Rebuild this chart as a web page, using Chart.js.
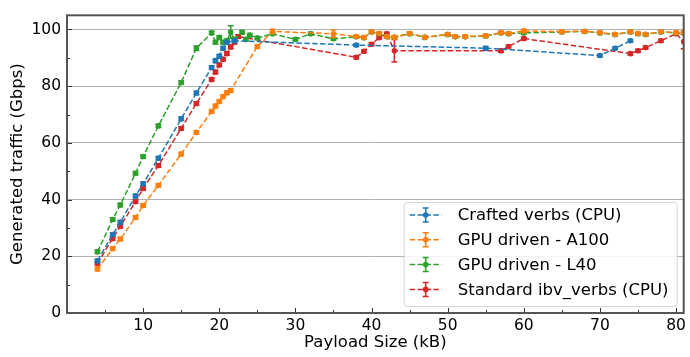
<!DOCTYPE html>
<html><head><meta charset="utf-8">
<script src="https://cdn.jsdelivr.net/npm/chart.js@4/dist/chart.umd.min.js"></script>
<style>html,body{margin:0;padding:0;background:#fff;}#wrap{width:690px;height:357px;}</style>
</head><body><div id="wrap"><canvas id="c" width="690" height="357"></canvas></div>
<script>
// ---------- data ----------
const seriesNames = ['Crafted verbs (CPU)', 'GPU driven - A100', 'GPU driven - L40', 'Standard ibv_verbs (CPU)'];
const seriesColors = ['#1f77b4', '#ff7f0e', '#2ca02c', '#d62728'];

const craftedX = [4,6,7,9,10,12,15,17,19,19.5,20,20.5,21,22,38,55,70,72,74];
const craftedY = [18.4,27.7,32,41.3,45.6,54.6,68.5,77.6,86.6,89,90.6,93.4,95.5,96,94.5,93.4,90.8,93.4,96];
const craftedErr = [0.6,0.6,0.6,0.6,0.6,0.6,0.6,0.6,0.6,0.6,0.6,0.6,0.6,0.6,0.5,0.6,0.5,0.5,0.5];

const a100X = [4,6,7,9,10,12,15,17,19,19.5,20,20.5,21,21.5,25,27,35,38,39,40,41,42,43,45,47,50,51,52.3,55,57,58,60,65,68,70,72,74,75,76,78,80,81];
const a100Y = [15.5,22.7,26.1,33.7,37.9,45,56.1,63.7,71.1,73,74.6,76.3,77.7,78.5,94,99.3,98.5,97.5,97.2,99.2,98.6,97.5,97.3,98.6,97.3,98.3,97.5,97.5,97.8,98.9,98.6,99.5,99.2,99.4,98.9,98.3,99.2,98.6,98.3,99.2,98.9,98.9];
const a100Err = [0.6,0.6,0.6,0.6,0.6,0.6,0.6,0.6,0.6,0.6,0.6,0.6,0.6,0.6,0.6,0.8,1.3,0.4,0.4,0.4,0.4,0.4,0.4,0.4,0.4,0.4,0.4,0.4,0.4,0.4,0.4,0.6,0.4,0.4,0.4,0.4,0.4,0.4,0.4,0.4,0.4,0.4];

const l40X = [4,6,7,9,10,12,15,17,19,19.5,20,20.5,21,21.5,22,23,23.5,24,25,27,30,32,35,38,39,40,41,42,43,45,47,50,51,52.3,55,57,58,60,65,68,70,72,74,75,76,78,80,81];
const l40Y = [21.6,33,38.1,49.3,55.2,66,81.3,93.4,98.8,95.5,97.2,95.5,96,99.1,96.5,99,96.5,98,97,98.5,96.5,98.5,96.7,97.4,97.1,99.1,98.5,97.4,97.2,98.5,97.2,98.2,97.4,97.4,97.7,98.8,98.5,98.8,99.1,99.3,98.8,98.2,99.1,98.5,98.2,99.1,98.8,98.8];
const l40Err = [0.6,0.6,0.6,0.6,0.6,0.6,0.6,0.8,0.6,0.6,0.6,0.6,0.6,2.2,0.6,0.6,0.6,0.6,0.5,0.5,0.5,0.5,0.5,0.5,0.5,0.5,0.5,0.5,0.5,0.5,0.5,0.5,0.5,0.5,0.5,0.5,0.5,0.5,0.5,0.5,0.5,0.5,0.5,0.5,0.5,0.5,0.5,0.5];

const ibvX = [4,6,7,9,10,12,15,17,19,19.5,20,20.5,21,21.5,22,22.5,38,39,40,41,42,43,57,58,60,74,75,76,78,80,81];
const ibvY = [17.5,26.3,30.6,39.3,43.9,52,65.1,73.9,82.4,85,87.5,89.5,91.5,93.8,95.5,97.5,90.2,92.3,94.8,97.1,98.5,92.5,92.5,94,96.8,91.5,92.5,93.6,96,98.5,95.7];
const ibvErr = [0.6,0.6,0.6,0.6,0.6,0.6,0.6,0.6,0.6,0.6,0.6,0.6,0.6,0.6,0.6,0.6,0.5,0.5,0.5,0.5,0.5,4,0.5,0.5,0.5,0.5,0.5,0.5,0.5,0.5,2.5];

const xTickValues = [10,20,30,40,50,60,70,80];
const xMinorValues = [5,15,25,35,45,55,65,75];
const yTickValues = [0,20,40,60,80,100];
const yMinorValues = [10,30,50,70,90];

// ---------- build ----------
const allX = [craftedX, a100X, l40X, ibvX];
const allY = [craftedY, a100Y, l40Y, ibvY];
const allErr = [craftedErr, a100Err, l40Err, ibvErr];

const datasets = seriesNames.map((name, k) => ({
  label: name,
  data: allX[k].map((x, i) => ({x: x, y: allY[k][i]})),
  errors: allErr[k],
  borderColor: seriesColors[k],
  backgroundColor: seriesColors[k],
  borderWidth: 1.5,
  borderDash: [5.5, 2.4],
  pointRadius: 2.8,
  pointHoverRadius: 2.8,
  pointBorderWidth: 0,
  pointBackgroundColor: seriesColors[k],
  tension: 0,
  fill: false
}));

const FONT = 'DejaVu Sans';

const errorBars = {
  id: 'errorBars',
  afterDatasetDraw(chart, args) {
    const ds = chart.data.datasets[args.index];
    const meta = args.meta;
    const ys = chart.scales.y;
    const ca = chart.chartArea;
    const ctx = chart.ctx;
    ctx.save();
    ctx.beginPath();
    ctx.rect(ca.left, ca.top, ca.right - ca.left, ca.bottom - ca.top);
    ctx.clip();
    ctx.strokeStyle = ds.borderColor;
    ctx.lineWidth = 1.5;
    ctx.setLineDash([]);
    meta.data.forEach((pt, i) => {
      const v = ds.data[i].y, e = ds.errors[i];
      const y1 = ys.getPixelForValue(v + e), y2 = ys.getPixelForValue(v - e);
      ctx.beginPath();
      ctx.moveTo(pt.x, y1); ctx.lineTo(pt.x, y2);
      ctx.moveTo(pt.x - 3, y1); ctx.lineTo(pt.x + 3, y1);
      ctx.moveTo(pt.x - 3, y2); ctx.lineTo(pt.x + 3, y2);
      ctx.stroke();
    });
    ctx.restore();
  }
};

const frameAndLegend = {
  id: 'frameAndLegend',
  afterDraw(chart) {
    const ctx = chart.ctx, ca = chart.chartArea;
    const xs = chart.scales.x, ys = chart.scales.y;
    ctx.save();
    // inward ticks
    ctx.strokeStyle = '#333';
    ctx.lineWidth = 1;
    ctx.setLineDash([]);
    ctx.beginPath();
    xTickValues.forEach(v => { const p = Math.round(xs.getPixelForValue(v)) + 0.5; ctx.moveTo(p, ca.bottom); ctx.lineTo(p, ca.bottom - 5); });
    xMinorValues.forEach(v => { const p = Math.round(xs.getPixelForValue(v)) + 0.5; ctx.moveTo(p, ca.bottom); ctx.lineTo(p, ca.bottom - 3); });
    yTickValues.forEach(v => { const p = Math.round(ys.getPixelForValue(v)) + 0.5; ctx.moveTo(ca.left, p); ctx.lineTo(ca.left + 5, p); });
    yMinorValues.forEach(v => { const p = Math.round(ys.getPixelForValue(v)) + 0.5; ctx.moveTo(ca.left, p); ctx.lineTo(ca.left + 3, p); });
    ctx.stroke();
    // frame
    ctx.strokeStyle = '#555';
    ctx.lineWidth = 2;
    ctx.strokeRect(ca.left, ca.top, ca.right - ca.left, ca.bottom - ca.top);

    // legend
    const bw = 273, bh = 104;
    const bx = ca.right - 7 - bw, by = ca.bottom - 7 - bh;
    ctx.fillStyle = 'rgba(255,255,255,0.85)';
    ctx.strokeStyle = '#d5d5d5';
    ctx.lineWidth = 1;
    ctx.beginPath();
    if (ctx.roundRect) ctx.roundRect(bx + 0.5, by + 0.5, bw, bh, 3); else ctx.rect(bx + 0.5, by + 0.5, bw, bh);
    ctx.fill(); ctx.stroke();
    ctx.font = '16.5px "' + FONT + '"';
    ctx.textBaseline = 'middle';
    ctx.textAlign = 'left';
    chart.data.datasets.forEach((ds, k) => {
      const cy = by + 13 + k * 24.8;
      const c = ds.borderColor;
      ctx.strokeStyle = c;
      ctx.lineWidth = 1.5;
      ctx.setLineDash([5.5, 2.4]);
      ctx.beginPath(); ctx.moveTo(bx + 6, cy); ctx.lineTo(bx + 38, cy); ctx.stroke();
      ctx.setLineDash([]);
      const mx = bx + 22;
      ctx.beginPath();
      ctx.moveTo(mx, cy - 7); ctx.lineTo(mx, cy + 7);
      ctx.moveTo(mx - 3, cy - 7); ctx.lineTo(mx + 3, cy - 7);
      ctx.moveTo(mx - 3, cy + 7); ctx.lineTo(mx + 3, cy + 7);
      ctx.stroke();
      ctx.fillStyle = c;
      ctx.beginPath(); ctx.arc(mx, cy, 2.8, 0, Math.PI * 2); ctx.fill();
      ctx.fillStyle = '#000';
      ctx.fillText(ds.label, bx + 54, cy + 1);
    });
    ctx.restore();
  }
};

new Chart(document.getElementById('c'), {
  type: 'line',
  data: { datasets: datasets },
  options: {
    responsive: false,
    animation: false,
    devicePixelRatio: 1,
    layout: { padding: { top: 6, right: 4, left: 0, bottom: 0 } },
    plugins: { legend: { display: false }, tooltip: { enabled: false } },
    scales: {
      x: {
        type: 'linear', min: 0, max: 81,
        afterBuildTicks: s => { s.ticks = xTickValues.map(v => ({ value: v })); },
        afterFit: s => { s.height = 44; },
        grid: { display: false, drawTicks: false },
        border: { display: false },
        ticks: { padding: 4, color: '#000', font: { family: FONT, size: 15.5 }, maxRotation: 0 },
        title: { display: true, text: 'Payload Size (kB)', color: '#000', font: { family: FONT, size: 16.5 }, padding: { top: 0, bottom: 4 } }
      },
      y: {
        type: 'linear', min: 0, max: 105,
        afterBuildTicks: s => { s.ticks = yTickValues.map(v => ({ value: v })); },
        afterFit: s => { s.width = 67; },
        grid: { color: '#b0b0b0', lineWidth: 1, drawTicks: false },
        border: { display: false },
        ticks: { padding: 6, color: '#000', font: { family: FONT, size: 15.5 } },
        title: { display: true, text: 'Generated traffic (Gbps)', color: '#000', font: { family: FONT, size: 16.5 }, padding: { top: 8, bottom: 0 } }
      }
    }
  },
  plugins: [errorBars, frameAndLegend]
});
</script>
</body></html>
